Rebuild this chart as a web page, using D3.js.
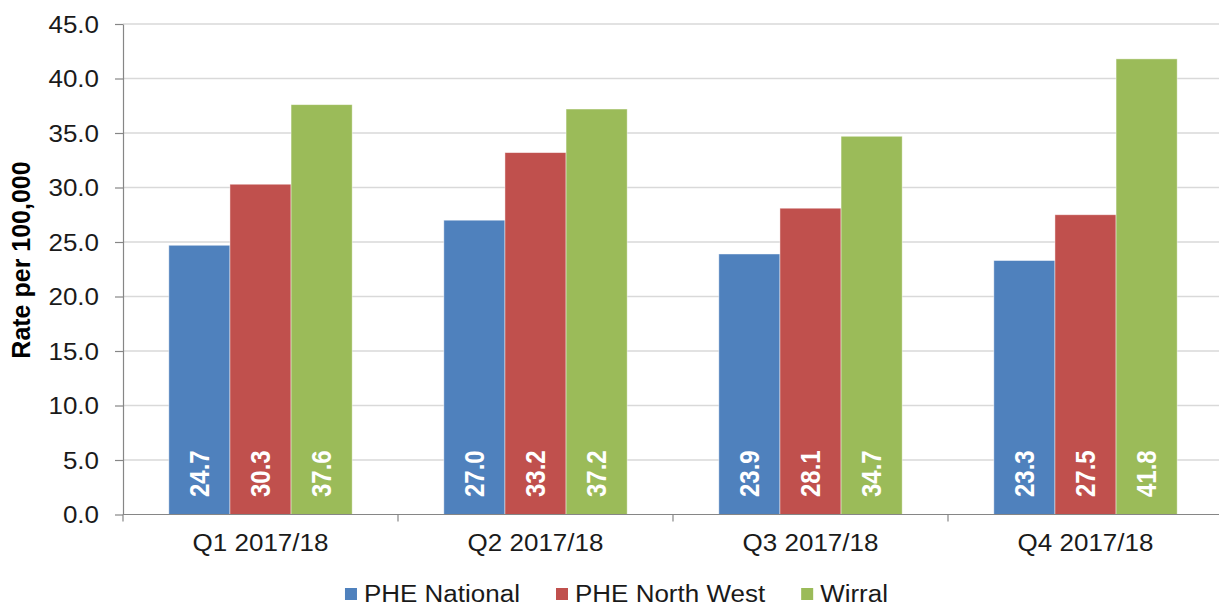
<!DOCTYPE html>
<html>
<head>
<meta charset="utf-8">
<script src="https://cdn.jsdelivr.net/npm/d3@7"></script>
<style>
  html, body { margin: 0; padding: 0; background: #fff; }
  svg { display: block; }
  text { font-family: "Liberation Sans", Arial, sans-serif; }
</style>
</head>
<body>
<svg id="chart" width="1219" height="605"></svg>
<script>
// ---- data ----
const categories = ["Q1 2017/18", "Q2 2017/18", "Q3 2017/18", "Q4 2017/18"];
const seriesNames = ["PHE National", "PHE North West", "Wirral"];
const pheNational = [24.7, 27.0, 23.9, 23.3];
const pheNorthWest = [30.3, 33.2, 28.1, 27.5];
const wirral = [37.6, 37.2, 34.7, 41.8];
const yTickValues = [0, 5, 10, 15, 20, 25, 30, 35, 40, 45];
const yTitle = "Rate per 100,000";
const seriesColors = ["#4F81BD", "#C0504D", "#9BBB59"];

const seriesValues = [pheNational, pheNorthWest, wirral];
const rows = categories.map((c, i) => ({
  category: c,
  values: seriesNames.map((s, j) => ({ series: s, value: seriesValues[j][i], color: seriesColors[j] }))
}));

// ---- layout ----
const W = 1219, H = 605;
const plotLeft = 123, plotRight = 1223, plotTop = 24, plotBottom = 514.5;
const sx = 1.13; // horizontal text stretch
const textColor = "#1a1a1a";

const svg = d3.select("#chart");

const x0 = d3.scaleBand().domain(categories).range([plotLeft, plotRight])
  .paddingInner(1 / 3).paddingOuter(1 / 6);
const x1 = d3.scaleBand().domain(seriesNames).range([0, x0.bandwidth()]);
const y = d3.scaleLinear().domain([0, 45]).range([plotBottom, plotTop]);

// gridlines
svg.append("g").selectAll("line").data(yTickValues.filter(d => d > 0)).join("line")
  .attr("x1", plotLeft).attr("x2", W)
  .attr("y1", d => y(d)).attr("y2", d => y(d))
  .attr("stroke", "#d9d9d9").attr("stroke-width", 1.5);

// bars
const groups = svg.append("g").selectAll("g").data(rows).join("g")
  .attr("transform", d => `translate(${x0(d.category)},0)`);

groups.selectAll("rect").data(d => d.values).join("rect")
  .attr("x", d => x1(d.series))
  .attr("width", x1.bandwidth())
  .attr("y", d => y(d.value))
  .attr("height", d => y(0) - y(d.value))
  .attr("fill", d => d.color)
  .attr("stroke", "rgba(255,255,255,0.55)")
  .attr("stroke-width", 0.8);

// bar value labels
groups.selectAll("text").data(d => d.values).join("text")
  .attr("transform", d => `translate(${x1(d.series) + x1.bandwidth() / 2},${y(0) - 17.5}) scale(${sx},1) rotate(-90)`)
  .attr("text-anchor", "start")
  .attr("dy", "0.36em")
  .attr("fill", "#fff")
  .attr("font-weight", "bold")
  .attr("font-size", 24)
  .text(d => d.value.toFixed(1));

// y axis
const yAxis = svg.append("g").attr("transform", `translate(${plotLeft},0)`)
  .call(d3.axisLeft(y).tickValues(yTickValues).tickSizeInner(8).tickSizeOuter(0)
    .tickFormat(d3.format(".1f")));
yAxis.select(".domain").attr("stroke", "#868686").attr("stroke-width", 1.2);
yAxis.selectAll(".tick line").attr("stroke", "#868686").attr("stroke-width", 1.2);
yAxis.selectAll(".tick text")
  .attr("x", null).attr("dy", "0.35em")
  .attr("transform", `translate(-24,0) scale(${sx},1)`)
  .attr("font-size", 23)
  .attr("fill", textColor)
  .attr("font-family", "'Liberation Sans', Arial, sans-serif");

// x axis line and boundary ticks
const xAxis = svg.append("g");
xAxis.append("line")
  .attr("x1", plotLeft).attr("x2", W)
  .attr("y1", y(0)).attr("y2", y(0))
  .attr("stroke", "#868686").attr("stroke-width", 1.2);
const gap = x0.step() - x0.bandwidth();
const boundaries = categories.map(c => x0(c) - gap / 2);
xAxis.selectAll("line.tick").data(boundaries).join("line").attr("class", "tick")
  .attr("x1", d => d).attr("x2", d => d)
  .attr("y1", y(0)).attr("y2", y(0) + 7)
  .attr("stroke", "#868686").attr("stroke-width", 1.2);
xAxis.selectAll("text").data(categories).join("text")
  .attr("transform", d => `translate(${x0(d) + x0.bandwidth() / 2},551) scale(${sx},1)`)
  .attr("text-anchor", "middle")
  .attr("font-size", 23)
  .attr("fill", textColor)
  .text(d => d);

// y title
svg.append("text")
  .attr("transform", "translate(29.5,260) rotate(-90)")
  .attr("text-anchor", "middle")
  .attr("font-weight", "bold")
  .attr("font-size", 25)
  .attr("fill", "#000")
  .text(yTitle);

// legend
const legend = svg.append("g");
const items = legend.selectAll("g").data(seriesNames).join("g");
items.append("rect").attr("width", 12).attr("height", 12).attr("y", 588)
  .attr("fill", (d, i) => seriesColors[i]);
items.append("text").attr("font-size", 23).attr("fill", textColor)
  .text(d => d);
const sqGap = 7, itemGap = 36;
const widths = [];
items.each(function () { widths.push(d3.select(this).select("text").node().getComputedTextLength() * sx); });
const total = widths.reduce((a, w) => a + 12 + sqGap + w, 0) + itemGap * (widths.length - 1);
let cx = 616.5 - total / 2;
items.each(function (d, i) {
  const g = d3.select(this);
  g.select("rect").attr("x", cx);
  g.select("text").attr("transform", `translate(${cx + 12 + sqGap},601.5) scale(${sx},1)`);
  cx += 12 + sqGap + widths[i] + itemGap;
});
</script>
</body>
</html>
